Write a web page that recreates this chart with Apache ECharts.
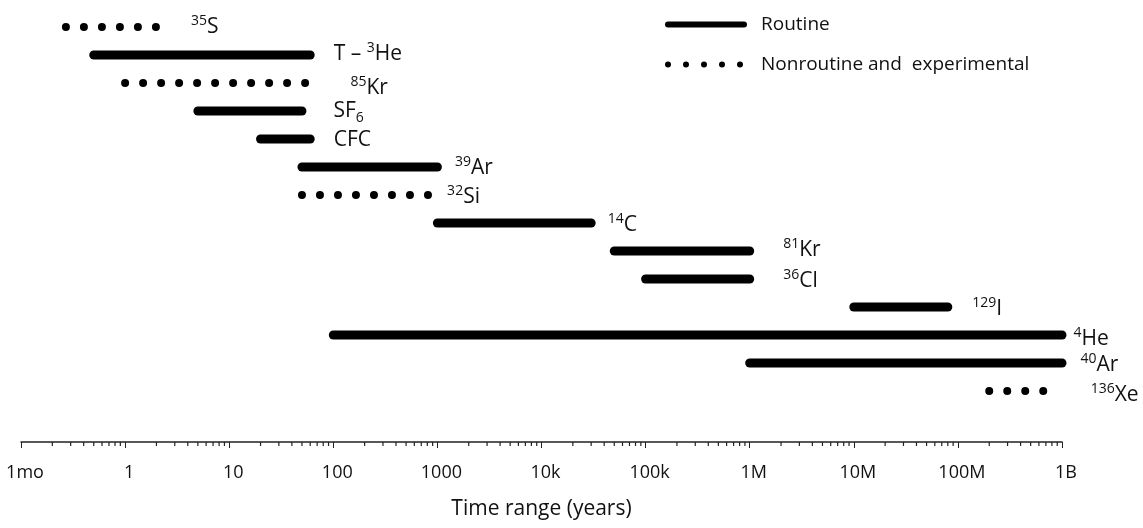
<!DOCTYPE html>
<html>
<head>
<meta charset="utf-8">
<script src="https://cdn.jsdelivr.net/npm/echarts@6/dist/echarts.min.js"></script>
<style>
html, body { margin: 0; background: #fff; }
#main { width: 1143px; height: 528px; }
</style>
</head>
<body>
<div id="main"></div>
<script>
// tick labels for each decade, from 0.1 yr up to 1e9 yr
var tickLabels = ['1mo', '1', '10', '100', '1000', '10k', '100k', '1M', '10M', '100M', '1B'];

// tracers, top to bottom (rich text tags for super/subscripts)
var tracers = ['{sup|35}S', 'T – {sup|3}He', '{sup|85}Kr', 'SF{sub|6}', 'CFC', '{sup|39}Ar', '{sup|32}Si',
    '{sup|14}C', '{sup|81}Kr', '{sup|36}Cl', '{sup|129}I', '{sup|4}He', '{sup|40}Ar', '{sup|136}Xe'];
var kind = ['nonroutine', 'routine', 'nonroutine', 'routine', 'routine', 'routine', 'nonroutine',
    'routine', 'routine', 'routine', 'routine', 'routine', 'routine', 'nonroutine'];
// time range in years
var rangeStart = [0.27, 0.5, 1, 5, 20, 50, 50, 1000, 50000, 100000, 1e7, 100, 1e6, 2e8];
var rangeEnd = [2, 60, 57, 50, 60, 1000, 880, 30000, 1e6, 1e6, 8e7, 1e9, 1e9, 6.9e8];

// label placement (px gap to the right of the line end, vertical shift)
var labelGap = [34, 23, 42, 31, 23, 17, 15, 16, 33, 33, 24, 11, 18, 45];
var labelDy = [0, -1, 5, 0, 1, 1, 2, 2, -1, 2, 2, 4, 2, 4];

var ROUTINE = 'Routine';
var NONROUTINE = 'Nonroutine and  experimental';
var Y_MAX = 14.82;
var FONT = 'Open Sans';

var myChart = echarts.init(document.getElementById('main'));

var series = tracers.map(function (name, i) {
    var solid = kind[i] === 'routine';
    return {
        name: solid ? ROUTINE : NONROUTINE,
        type: 'line',
        silent: true,
        symbol: 'circle',
        symbolSize: 1,
        showSymbol: true,
        itemStyle: { color: '#000' },
        lineStyle: solid
            ? { color: '#000', width: 9, cap: 'round' }
            : { color: '#000', width: 8, cap: 'round', type: [0, 18] },
        data: [
            [Math.log10(rangeStart[i]), i],
            {
                value: [Math.log10(rangeEnd[i]), i],
                label: {
                    show: true,
                    position: 'right',
                    distance: labelGap[i],
                    offset: [0, labelDy[i]],
                    formatter: name
                }
            }
        ],
        label: {
            color: '#111',
            fontFamily: FONT,
            fontSize: 21,
            lineHeight: 26,
            rich: {
                sup: { fontSize: 14, lineHeight: 14, padding: [0, 0, 12, 0], color: '#111', fontFamily: FONT },
                sub: { fontSize: 14, lineHeight: 14, padding: [14, 0, 0, 0], color: '#111', fontFamily: FONT }
            }
        }
    };
});

// log-spaced minor ticks (2..9 in each decade)
var minorTicks = [];
for (var d = -1; d < 9; d++) {
    for (var k = 2; k <= 9; k++) {
        minorTicks.push([d + Math.log10(k), Y_MAX]);
    }
}
series.push({
    name: 'minor',
    type: 'custom',
    silent: true,
    data: minorTicks,
    renderItem: function (params, api) {
        var p = api.coord([api.value(0), api.value(1)]);
        return {
            type: 'line',
            shape: { x1: p[0], y1: p[1], x2: p[0], y2: p[1] + 4 },
            style: { stroke: '#222', lineWidth: 1.2 }
        };
    }
});

option = {
    animation: false,
    textStyle: { fontFamily: FONT },
    legend: {
        data: [ROUTINE, NONROUTINE],
        orient: 'vertical',
        left: 660,
        top: 10,
        itemWidth: 76,
        itemHeight: 14,
        itemGap: 21,
        selectedMode: false,
        lineStyle: { width: 6, cap: 'round' },
        itemStyle: { color: 'rgba(0,0,0,0)', borderWidth: 0, opacity: 0 },
        textStyle: { fontSize: 19, color: '#111', fontFamily: FONT, padding: [0, 0, 0, 12] }
    },
    grid: { left: 21, right: 81, top: 13, bottom: 86, containLabel: false },
    xAxis: {
        type: 'value',
        min: -1,
        max: 9,
        interval: 1,
        splitLine: { show: false },
        axisLine: { onZero: false, lineStyle: { color: '#222', width: 1.5 } },
        axisTick: { length: 6, lineStyle: { color: '#222' } },
        axisLabel: {
            fontSize: 18,
            color: '#111',
            margin: 22,
            padding: [0, 0, 0, 8],
            fontFamily: FONT,
            formatter: function (v) { return tickLabels[Math.round(v) + 1]; }
        },
        name: 'Time range (years)',
        nameLocation: 'middle',
        nameGap: 57,
        nameTextStyle: { fontSize: 21, color: '#111', fontFamily: FONT }
    },
    yAxis: {
        type: 'value',
        inverse: true,
        min: -0.5,
        max: Y_MAX,
        show: false
    },
    series: series
};
myChart.setOption(option);
</script>
</body>
</html>
